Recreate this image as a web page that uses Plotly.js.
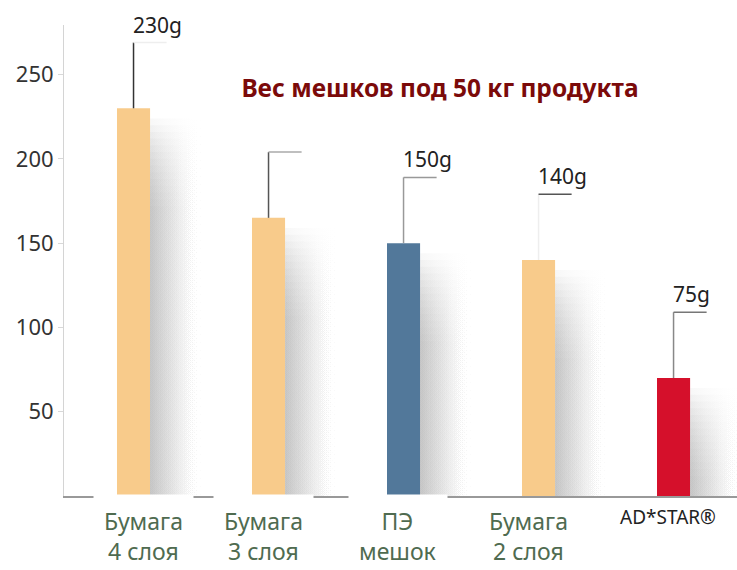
<!DOCTYPE html>
<html>
<head>
<meta charset="utf-8">
<script src="https://cdn.plot.ly/plotly-3.0.1.min.js"></script>
<style>html,body{margin:0;padding:0;background:#fff;}#chart{width:737px;height:570px;}</style>
</head>
<body>
<div id="chart"></div>
<script>
// ---- data ----
const categories = ["Бумага 4 слоя", "Бумага 3 слоя", "ПЭ мешок", "Бумага 2 слоя", "AD*STAR®"];
const categoryLabels = ["Бумага<br>4 слоя", "Бумага<br>3 слоя", "ПЭ<br>мешок", "Бумага<br>2 слоя", "AD*STAR®"];
const values = [230, 165, 150, 140, 70];
// label of the 2nd bar is hidden in the original picture
const valueLabels = ["230g", "", "150g", "140g", "75g"];
const yTicks = [50, 100, 150, 200, 250];
const chartTitle = "Вес мешков под 50 кг продукта";

// ---- styles ----
const barColors = ["#f8cb8b", "#f8cb8b", "#52789a", "#f8cb8b", "#d5102b"];
const vLineColors = ["#333333", "#555555", "#999999", "#eeeeee", "#888888"];
const hLineColors = ["#eeeeee", "#aaaaaa", "#999999", "#555555", "#777777"];
const labelColors = ["#4f6b50", "#4f6b50", "#4f6b50", "#4f6b50", "#222222"];
const labelSizes = [23, 23, 23, 23, 19];
const labelShiftX = [10, -5, -6, -10, -6];
const labelBg = ["#ffffff", "#ffffff", "#ffffff", "rgba(0,0,0,0)", "rgba(0,0,0,0)"];
const SHADOW_LAYERS = 14;
const BAR_W = 0.245;
const CALLOUT_UP = 39;
const FONT = "Noto Sans, Open Sans, sans-serif";

const xs = categories.map((c, i) => i);
const traces = [];

// soft shadows to the right of each bar (many faint stacked layers give a soft top edge)
xs.forEach((x, i) => {
  const v = values[i];
  const x0 = x + BAR_W / 2, x1 = x + 0.52;
  for (let k = 0; k < SHADOW_LAYERS; k++) {
    const top = Math.max(v - 6 - k * 4, 0);
    traces.push({
      type: "scatter", mode: "lines", hoverinfo: "skip", showlegend: false,
      x: [x0, x1, x1, x0, x0], y: [0, 0, top, top, 0],
      fill: "toself", line: {width: 0, color: "rgba(0,0,0,0)"},
      fillgradient: {type: "horizontal",
        colorscale: [[0, "rgba(180,180,180,0.1)"], [0.45, "rgba(210,210,210,0.06)"], [1, "rgba(255,255,255,0)"]]}
    });
  }
});

traces.push({
  type: "bar", x: xs, y: values, width: BAR_W,
  marker: {color: barColors, line: {width: 0}},
  hoverinfo: "skip", showlegend: false
});

// callout lines
xs.forEach((x, i) => {
  const v = values[i];
  traces.push({type: "scatter", mode: "lines", hoverinfo: "skip", showlegend: false,
    x: [x, x], y: [v, v + CALLOUT_UP], line: {color: vLineColors[i], width: 1.5}});
  traces.push({type: "scatter", mode: "lines", hoverinfo: "skip", showlegend: false,
    x: [x, x + BAR_W], y: [v + CALLOUT_UP, v + CALLOUT_UP], line: {color: hLineColors[i], width: 1.5}});
});

const annotations = [];
xs.forEach((x, i) => {
  if (valueLabels[i]) {
    annotations.push({x: x, y: values[i] + CALLOUT_UP, xref: "x", yref: "y",
      xanchor: "left", yanchor: "bottom", xshift: -3, yshift: 2, showarrow: false,
      text: valueLabels[i], font: {family: FONT, size: 21, color: "#222"}});
  }
  const isLast = i === categories.length - 1;
  annotations.push({x: x, y: 0, xref: "x", yref: "y", xanchor: "center", yanchor: "top",
    xshift: labelShiftX[i], yshift: isLast ? -7 : 2, showarrow: false, text: categoryLabels[i],
    bgcolor: labelBg[i], borderpad: isLast ? 0 : 10,
    font: {family: FONT, size: labelSizes[i], color: labelColors[i]}});
});

const layout = {
  width: 737, height: 570,
  margin: {l: 64, r: 0, t: 25, b: 74},
  paper_bgcolor: "#fff", plot_bgcolor: "#fff",
  showlegend: false,
  title: {text: "<b>" + chartTitle + "</b>", x: 0.597, xanchor: "center",
    y: 1 - 88 / 570, yref: "container", yanchor: "middle",
    font: {family: FONT, size: 24.5, color: "#7b0a0a"}},
  xaxis: {range: [-0.515, 4.47], showticklabels: false, showgrid: false, zeroline: false,
    showline: true, linecolor: "#999", linewidth: 1.5, fixedrange: true},
  yaxis: {range: [0, 279.4], tickvals: yTicks, showgrid: false, zeroline: false,
    showline: true, linecolor: "#d4d4d4", linewidth: 1,
    ticks: "outside", ticklen: 5, tickcolor: "#d8d8d8",
    tickfont: {family: FONT, size: 22, color: "#333"}},
  annotations: annotations
};

Plotly.newPlot("chart", traces, layout, {staticPlot: true, displayModeBar: false});
</script>
</body>
</html>
